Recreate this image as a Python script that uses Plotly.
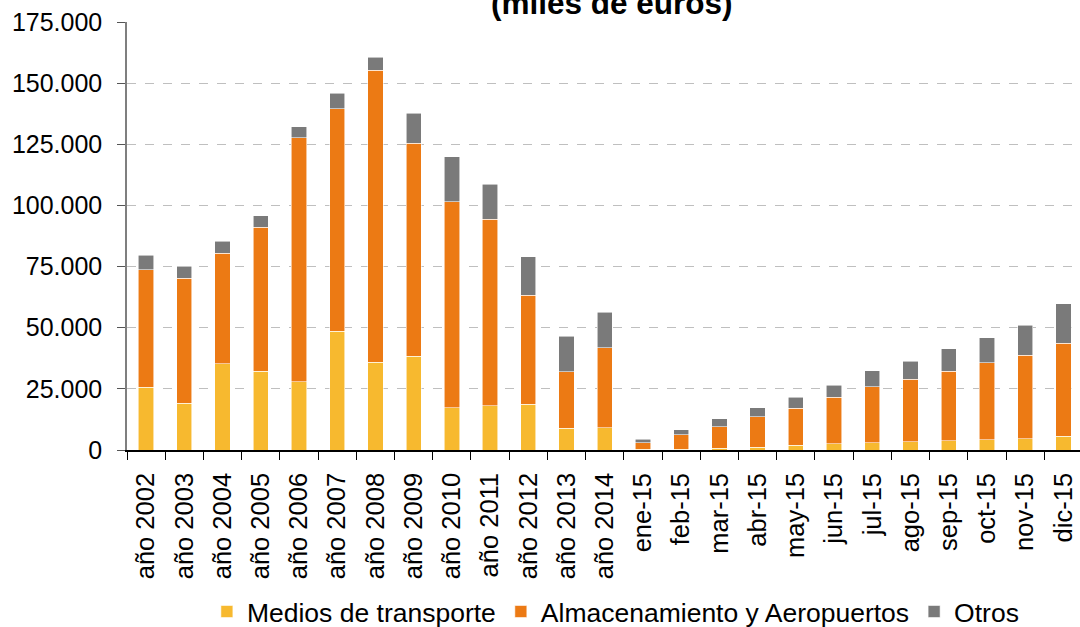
import plotly.graph_objects as go

categories = ["año 2002", "año 2003", "año 2004", "año 2005", "año 2006", "año 2007",
              "año 2008", "año 2009", "año 2010", "año 2011", "año 2012", "año 2013",
              "año 2014", "ene-15", "feb-15", "mar-15", "abr-15", "may-15", "jun-15",
              "jul-15", "ago-15", "sep-15", "oct-15", "nov-15", "dic-15"]

medios = [25600, 19200, 35300, 32300, 27900, 48500, 35800, 38400, 17300, 18000, 18700, 8900,
          9000, 300, 400, 800, 1200, 2000, 2500, 3000, 3400, 3700, 4200, 4500, 5700]
almacenamiento = [48200, 51000, 45100, 58800, 99700, 91000, 119400, 87100, 84300, 76300, 44600, 23100,
                  32800, 2700, 5900, 8700, 12300, 15000, 19000, 22900, 25500, 28600, 31400, 34200, 38000]
otros = [5800, 5000, 4900, 4700, 4500, 6300, 5300, 12100, 18400, 14400, 15700, 14600,
         14500, 1400, 1900, 3200, 3700, 4500, 4900, 6500, 7300, 9000, 10300, 12300, 16100]

series = [("Medios de transporte", medios, "#F7B92F"),
          ("Almacenamiento y Aeropuertos", almacenamiento, "#EC7A14"),
          ("Otros", otros, "#7A7A7A")]

FONT = "Liberation Sans, Arial, sans-serif"

fig = go.Figure()
for name, vals, color in series:
    fig.add_trace(go.Bar(
        x=categories, y=vals, name=name,
        marker=dict(color=color, line=dict(color="rgba(255,255,255,0.7)", width=0.8)),
    ))

fig.update_layout(
    barmode="stack",
    bargap=0.6,
    width=1080, height=627,
    margin=dict(l=127, r=0, t=22, b=177, pad=0, autoexpand=False),
    paper_bgcolor="white", plot_bgcolor="white",
    separators=",.",
    font=dict(family=FONT, color="black"),
    showlegend=True,
    legend=dict(orientation="h", x=0.513, xanchor="center", y=-0.378, yanchor="middle",
                font=dict(size=26.5, family=FONT, color="black"),
                itemwidth=30, tracegroupgap=0, traceorder="normal",
                bgcolor="rgba(0,0,0,0)"),
    annotations=[dict(text="<b>(miles de euros)</b>", xref="paper", yref="paper",
                      x=0.5084, y=0.998, xanchor="center", yanchor="bottom",
                      showarrow=False, font=dict(size=31.5, family=FONT, color="black"))],
)

fig.update_xaxes(
    type="category", range=[-0.5, 24.435], automargin=False,
    tickangle=-90, tickfont=dict(size=25.5, family=FONT, color="black"),
    showline=True, linecolor="black", linewidth=1.5,
    ticks="outside", ticklen=8, tickcolor="black", tickwidth=1.2,
    tickson="boundaries", showgrid=False, ticklabelstandoff=11,
)
fig.update_yaxes(
    range=[0, 175000], dtick=25000, tickformat=",d", automargin=False,
    tickfont=dict(size=25, family=FONT, color="black"),
    showline=True, linecolor="#7F7F7F", linewidth=1.5,
    ticks="outside", ticklen=8, tickcolor="#555555", tickwidth=1.2,
    showgrid=True, gridcolor="#BFBFBF", griddash="dash", gridwidth=1.2,
    zeroline=False, ticklabelstandoff=10,
)

fig.write_html("out.html", config={"displayModeBar": False},
               post_script="document.body.style.margin='0px';")
